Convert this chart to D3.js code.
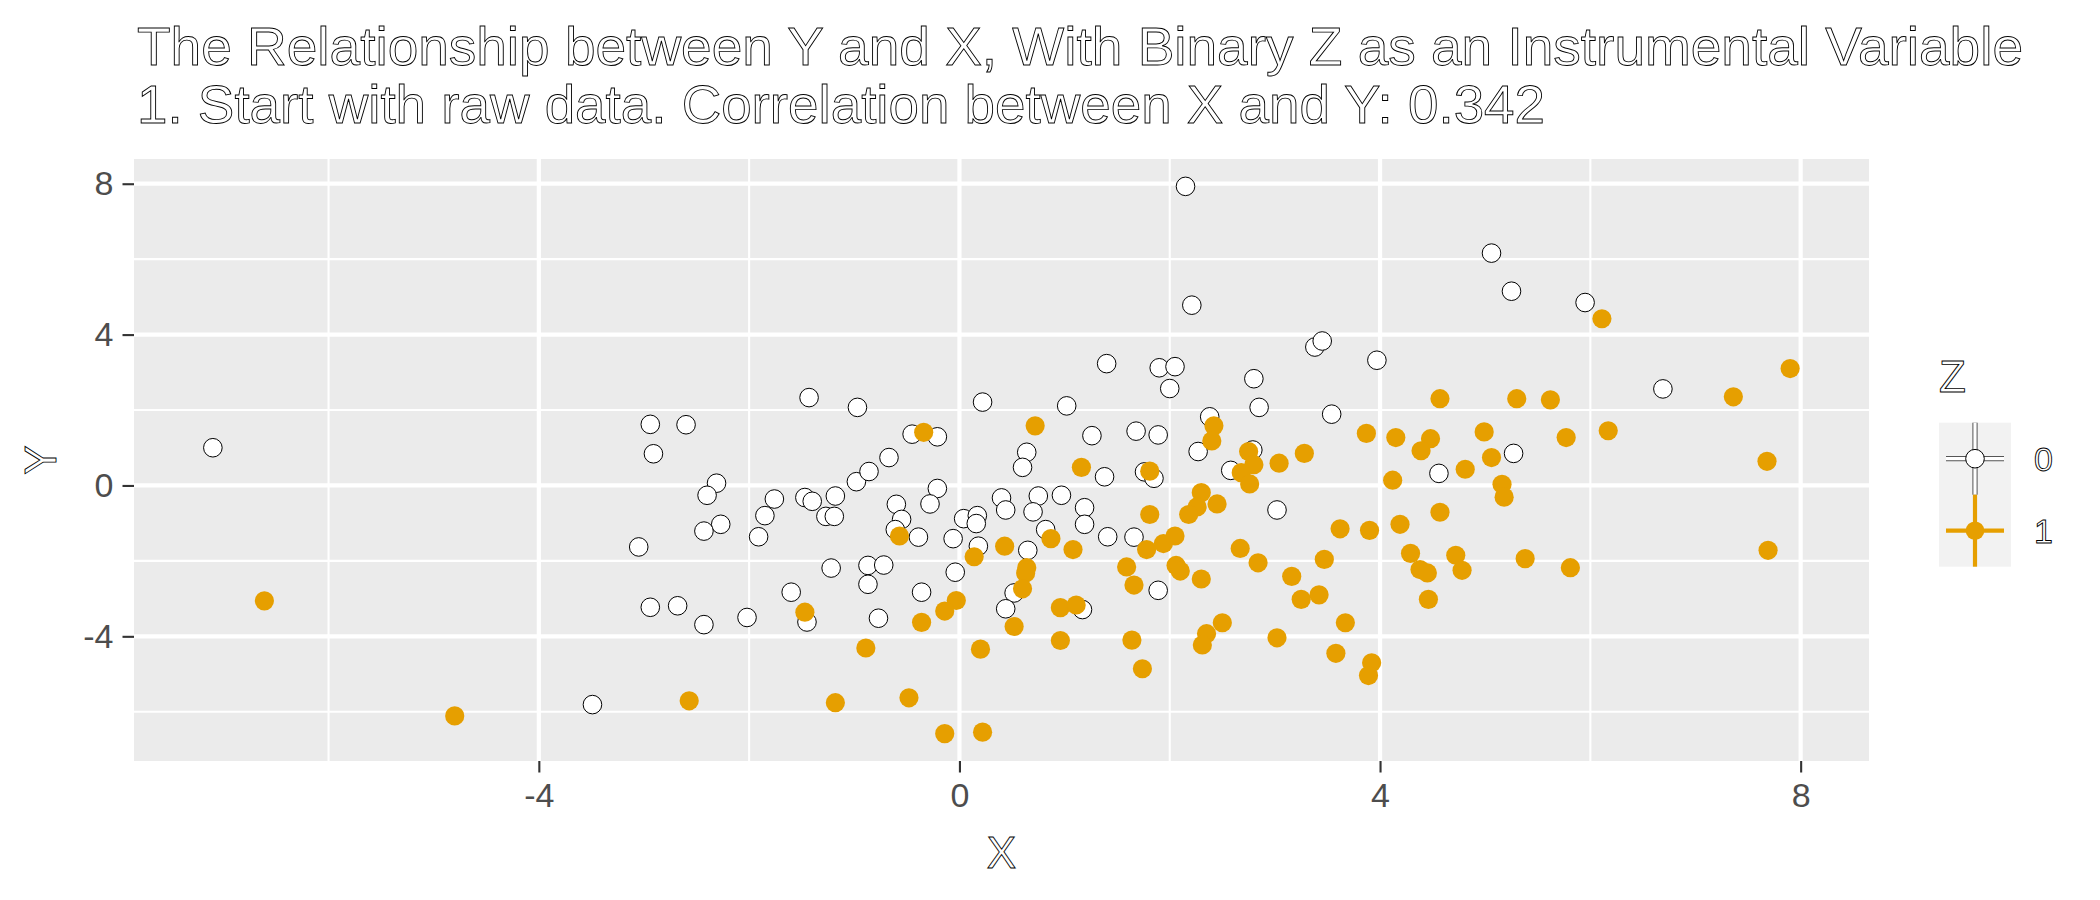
<!DOCTYPE html>
<html>
<head>
<meta charset="utf-8">
<script src="https://cdn.jsdelivr.net/npm/d3@7"></script>
<style>
  body { margin: 0; background: #fff; }
  svg { display: block; font-family: "Liberation Sans", Arial, sans-serif; }
</style>
</head>
<body>
<svg id="chart" width="2100" height="900"></svg>
<script>
// Z = 0 points (white)
const x0 = [-7.10, -3.49, -2.94, -2.60, -2.91, -1.43, -0.97, -2.31, -2.40, -1.76,
  -1.47, -1.40, -1.18, -0.98, -1.85, -1.27, -1.19, -2.27, -2.43, -1.91,
  -3.05, -1.22, -1.60, -1.45, -2.94, -2.68, -2.43, -2.02, -0.45, -0.21,
  -0.67, -0.86, -0.21, 0.22, 1.02, 1.40, 1.90, 2.05, 2.00, 1.26,
  1.68, 1.89, 0.64, 0.60, 1.38, 1.76, 1.85, -0.28, -0.60, -0.55,
  -0.61, -0.39, -0.06, 0.04, 0.17, 0.16, 0.18, -0.87, -0.72, -0.87,
  -0.04, -0.36, -0.77, 0.40, 0.44, 0.75, 0.70, 0.97, 0.82, 0.65,
  0.52, 0.44, 1.19, 1.19, 1.41, 1.66, 1.89, 1.17, 2.15, 2.21,
  3.38, 3.45, 3.97, 2.80, 2.85, 3.54, 2.38, 2.27, 4.56, 2.79,
  2.58, 3.02, 5.06, 5.25, 5.95, 6.69, 5.27];
const y0 = [1.00, -5.81, 1.62, 1.61, 0.84, 2.33, 2.07, 0.06, -0.26, -0.36,
  -0.32, -0.42, -0.28, 0.10, -0.80, -0.82, -0.82, -1.03, -1.21, -1.36,
  -1.63, -2.19, -2.83, -3.62, -3.23, -3.19, -3.69, -3.50, 1.36, 1.29,
  0.74, 0.37, -0.08, 2.21, 2.11, 3.23, 3.12, 3.15, 2.57, 1.32,
  1.44, 1.34, 0.88, 0.48, 0.23, 0.36, 0.19, -0.49, -0.50, -0.90,
  -1.17, -1.37, -1.41, -0.88, -0.80, -1.01, -1.61, -2.12, -2.11, -2.62,
  -2.30, -2.83, -3.52, -0.33, -0.65, -0.28, -0.70, -0.26, -1.17, -1.72,
  -2.85, -3.27, -0.59, -1.03, -1.36, -1.37, -2.78, -3.29, 7.93, 4.78,
  3.67, 3.83, 3.32, 2.83, 2.07, 1.89, 1.82, 0.90, 0.32, 0.94,
  0.40, -0.65, 6.16, 5.15, 4.85, 2.56, 0.85];

// Z = 1 points (orange)
const x1 = [-6.61, -4.80, -2.57, -1.18, -1.47, -0.34, 0.72, 1.16, 1.81, -0.57,
  0.14, -0.03, -0.14, -0.36, -0.89, 0.20, -0.48, -0.14, 0.22, 0.87,
  0.43, 0.64, 0.63, 0.60, 0.52, 1.08, 1.81, 1.78, 1.94, 1.59,
  1.66, 0.96, 1.11, 0.96, 1.64, 1.74, 4.57, 2.42, 2.40, 3.87,
  4.15, 4.48, 4.39, 4.99, 4.81, 4.12, 3.28, 3.04, 2.75, 2.80,
  2.68, 2.76, 2.30, 2.26, 2.18, 2.45, 2.05, 2.06, 2.10, 2.30,
  2.67, 2.84, 3.16, 3.47, 3.62, 3.90, 3.25, 3.42, 2.50, 2.35,
  2.31, 3.02, 3.67, 3.58, 3.92, 3.89, 4.57, 4.19, 4.29, 4.38,
  4.45, 4.72, 4.78, 4.46, 6.11, 7.90, 7.36, 5.30, 5.62, 5.77,
  6.17, 5.06, 5.16, 7.68, 5.18, 5.38, 5.81, 7.69];
const y1 = [-3.06, -6.11, -5.71, -5.76, -3.36, 1.41, 1.58, 0.48, 0.38, -1.34,
  -1.89, -3.05, -3.33, -3.63, -4.31, -4.34, -5.63, -6.58, -6.54, -1.41,
  -1.61, -2.18, -2.32, -2.74, -3.74, -1.70, -0.77, -1.70, -1.54, -2.16,
  -2.64, -3.24, -3.17, -4.11, -4.10, -4.86, 2.30, 1.58, 1.18, 1.38,
  1.27, 1.24, 0.92, 1.42, 0.43, 0.14, 0.85, 0.59, 0.90, 0.55,
  0.34, 0.04, -0.19, -0.57, -0.77, -0.49, -1.34, -2.12, -2.27, -2.48,
  -1.67, -2.05, -2.41, -1.96, -1.15, -1.19, -3.02, -2.90, -3.64, -3.93,
  -4.23, -4.04, -3.64, -4.45, -4.70, -5.04, -0.71, -1.03, -1.80, -2.23,
  -2.32, -1.85, -2.25, -3.02, 4.42, 3.10, 2.35, 2.30, 2.27, 1.27,
  1.45, 0.74, 0.03, 0.64, -0.31, -1.94, -2.18, -1.72];

const majorTicks = [-4, 0, 4, 8];
const minorTicks = [-6, -2, 2, 6];
const groupLabels = ["0", "1"];
const groupColors = ["#FFFFFF", "#E69F00"];

const titleLines = [
  "The Relationship between Y and X, With Binary Z as an Instrumental Variable",
  "1. Start with raw data. Correlation between X and Y: 0.342"
];

const svg = d3.select("#chart");
const panel = { left: 134, right: 1869, top: 159, bottom: 761 };

// ggplot style 5% expansion
function expand(ext) {
  const pad = (ext[1] - ext[0]) * 0.05;
  return [ext[0] - pad, ext[1] + pad];
}

const x = d3.scaleLinear()
  .domain(expand(d3.extent(x0.concat(x1))))
  .range([panel.left, panel.right]);
const y = d3.scaleLinear()
  .domain(expand(d3.extent(y0.concat(y1))))
  .range([panel.bottom, panel.top]);

// panel background
svg.append("rect")
  .attr("x", panel.left).attr("y", panel.top)
  .attr("width", panel.right - panel.left)
  .attr("height", panel.bottom - panel.top)
  .attr("fill", "#EBEBEB");

// grid lines
const grid = svg.append("g");
grid.selectAll(".minx").data(minorTicks.filter(d => x(d) > panel.left && x(d) < panel.right))
  .join("line")
  .attr("x1", d => x(d)).attr("x2", d => x(d))
  .attr("y1", panel.top).attr("y2", panel.bottom)
  .attr("stroke", "#fff").attr("stroke-width", 2.1);
grid.selectAll(".miny").data(minorTicks.filter(d => y(d) < panel.bottom && y(d) > panel.top))
  .join("line")
  .attr("y1", d => y(d)).attr("y2", d => y(d))
  .attr("x1", panel.left).attr("x2", panel.right)
  .attr("stroke", "#fff").attr("stroke-width", 2.1);
grid.selectAll(".majx").data(majorTicks)
  .join("line")
  .attr("x1", d => x(d)).attr("x2", d => x(d))
  .attr("y1", panel.top).attr("y2", panel.bottom)
  .attr("stroke", "#fff").attr("stroke-width", 4.2);
grid.selectAll(".majy").data(majorTicks)
  .join("line")
  .attr("y1", d => y(d)).attr("y2", d => y(d))
  .attr("x1", panel.left).attr("x2", panel.right)
  .attr("stroke", "#fff").attr("stroke-width", 4.2);

// points: white first, orange on top
const r = 9.3;
svg.append("g").selectAll("circle")
  .data(x0.map((d, i) => [d, y0[i]]))
  .join("circle")
  .attr("cx", d => x(d[0])).attr("cy", d => y(d[1])).attr("r", r)
  .attr("fill", groupColors[0]).attr("stroke", "#000").attr("stroke-width", 1);
svg.append("g").selectAll("circle")
  .data(x1.map((d, i) => [d, y1[i]]))
  .join("circle")
  .attr("cx", d => x(d[0])).attr("cy", d => y(d[1])).attr("r", r + 0.3)
  .attr("fill", groupColors[1]);

// axes (plain hyphen for negatives, like R)
const plain = d => String(d);
function styleAxis(g) {
  g.select(".domain").remove();
  g.selectAll(".tick line").attr("stroke", "#333333").attr("stroke-width", 2.1);
  g.selectAll(".tick text").attr("fill", "#4D4D4D").attr("font-size", 34)
    .attr("font-family", "Liberation Sans, Arial, sans-serif");
}
svg.append("g")
  .attr("transform", `translate(0,${panel.bottom})`)
  .call(d3.axisBottom(x).tickValues(majorTicks).tickFormat(plain).tickSize(11.5).tickPadding(10.5))
  .call(styleAxis);
svg.append("g")
  .attr("transform", `translate(${panel.left},0)`)
  .call(d3.axisLeft(y).tickValues(majorTicks).tickFormat(plain).tickSize(11.5).tickPadding(9))
  .call(styleAxis);

// outlined text helper
function outlined(sel) {
  return sel.attr("fill", "#fff").attr("stroke", "#000").attr("stroke-width", 0.9);
}

// title
const titleEnds = [2023, 1545];
const titleBase = [65, 123];
titleLines.forEach((t, i) => {
  svg.append("text")
    .attr("x", 137).attr("y", titleBase[i])
    .attr("font-size", 54)
    .attr("textLength", titleEnds[i] - 137)
    .attr("lengthAdjust", "spacingAndGlyphs")
    .text(t)
    .call(outlined);
});

// axis titles
svg.append("text")
  .attr("x", (panel.left + panel.right) / 2).attr("y", 868)
  .attr("text-anchor", "middle").attr("font-size", 44)
  .text("X").call(outlined);
svg.append("text")
  .attr("transform", `translate(56,${(panel.top + panel.bottom) / 2}) rotate(-90)`)
  .attr("text-anchor", "middle").attr("font-size", 44)
  .text("Y").call(outlined);

// legend
const leg = svg.append("g");
leg.append("text")
  .attr("x", 1939).attr("y", 392).attr("font-size", 44)
  .text("Z").call(outlined);
const keyX = 1939, keyTop = 422.7, keyW = 72, keyH = 72;
leg.append("rect")
  .attr("x", keyX).attr("y", keyTop)
  .attr("width", keyW).attr("height", keyH * 2)
  .attr("fill", "#F2F2F2");
groupLabels.forEach((lab, i) => {
  const cy = keyTop + keyH * i + keyH / 2;
  const cx = keyX + keyW / 2;
  const col = groupColors[i];
  const lines = [
    [cx, keyTop + keyH * i, cx, keyTop + keyH * (i + 1)],
    [keyX + 7, cy, keyX + keyW - 7, cy]
  ];
  lines.forEach(l => {
    if (i === 0) {
      leg.append("line")
        .attr("x1", l[0]).attr("y1", l[1]).attr("x2", l[2]).attr("y2", l[3])
        .attr("stroke", "#555").attr("stroke-width", 5.2);
    }
    leg.append("line")
      .attr("x1", l[0]).attr("y1", l[1]).attr("x2", l[2]).attr("y2", l[3])
      .attr("stroke", col).attr("stroke-width", i === 0 ? 3.2 : 4.2);
  });
  leg.append("circle")
    .attr("cx", cx).attr("cy", cy).attr("r", r)
    .attr("fill", col)
    .attr("stroke", i === 0 ? "#000" : "none").attr("stroke-width", 1);
  leg.append("text")
    .attr("x", 2034).attr("y", cy + 12.5).attr("font-size", 34)
    .text(lab).call(outlined);
});
</script>
</body>
</html>
